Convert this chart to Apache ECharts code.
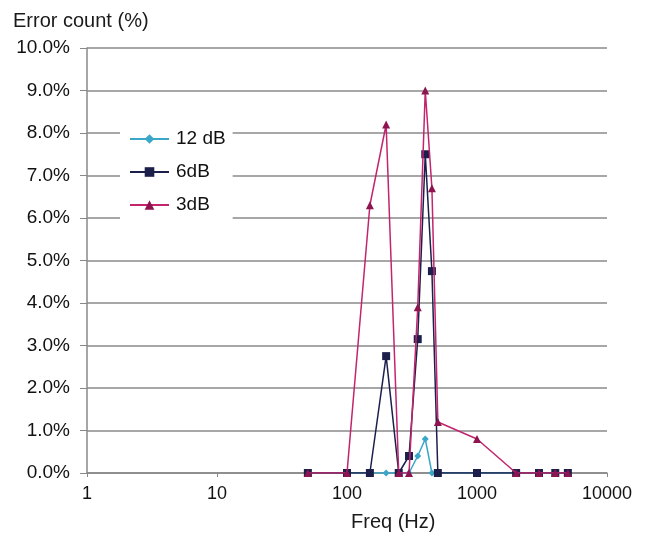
<!DOCTYPE html>
<html>
<head>
<meta charset="utf-8">
<script src="https://cdn.jsdelivr.net/npm/echarts@6/dist/echarts.min.js"></script>
<style>html,body{margin:0;padding:0;background:#fff;}#c{width:653px;height:538px;}</style>
</head>
<body>
<div id="c"></div>
<script>
const freqs = [50, 100, 150, 200, 250, 300, 350, 400, 450, 500, 1000, 2000, 3000, 4000, 5000];
const seriesNames = ['12 dB', '6dB', '3dB'];
const val12 = [0, 0, 0, 0, 0, 0, 0.4, 0.8, 0, 0, 0, 0, 0, 0, 0];
const val6 = [0, 0, 0, 2.75, 0, 0.4, 3.15, 7.5, 4.75, 0, 0, 0, 0, 0, 0];
const val3 = [0, 0, 6.3, 8.2, 0, 0, 3.9, 9.0, 6.7, 1.2, 0.8, 0, 0, 0, 0];
const xTicks = [1, 10, 100, 1000, 10000];
const yTitle = 'Error count (%)';
const xTitle = 'Freq (Hz)';

const pairs = v => freqs.map((f, i) => [f, v[i]]);
const font = 'Liberation Sans, Arial, sans-serif';
const chart = echarts.init(document.getElementById('c'));
chart.setOption({
  animation: false,
  backgroundColor: '#fff',
  title: [
    { text: yTitle, left: 13, top: 11, padding: 0,
      textStyle: { fontFamily: font, fontSize: 20, fontWeight: 'normal', color: '#1a1a1a' } },
    { text: xTitle, left: 351, top: 512, padding: 0,
      textStyle: { fontFamily: font, fontSize: 20, fontWeight: 'normal', color: '#1a1a1a' } }
  ],
  grid: { left: 87, right: 46, top: 48, bottom: 65, containLabel: false },
  legend: {
    orient: 'vertical', left: 120, top: 121, itemGap: 13, itemWidth: 39, itemHeight: 12,
    backgroundColor: '#fff', padding: [8, 7, 8, 9],
    textStyle: { fontFamily: font, fontSize: 19, lineHeight: 20, color: '#111', padding: [0, 0, 0, 2] },
    data: seriesNames
  },
  xAxis: {
    type: 'log', logBase: 10, min: 1, max: 10000,
    axisLine: { lineStyle: { color: '#888', width: 1.5 } },
    axisTick: { show: true, length: 4, lineStyle: { color: '#888' } },
    axisLabel: { fontFamily: font, fontSize: 18, color: '#111', margin: 12,
      formatter: v => { const t = xTicks.find(x => Math.abs(x - v) / x < 1e-6); return t ? String(t) : ''; } },
    splitLine: { show: false }
  },
  yAxis: {
    type: 'value', min: 0, max: 10, interval: 1,
    axisLine: { show: true, lineStyle: { color: '#888', width: 1.5 } },
    axisTick: { show: true, length: 7, lineStyle: { color: '#888' } },
    axisLabel: { fontFamily: font, fontSize: 19, color: '#111', margin: 17, formatter: v => v.toFixed(1) + '%' },
    splitLine: { show: true, lineStyle: { color: '#8a8a8a', width: 1.5 } }
  },
  series: [
    { name: '12 dB', type: 'line', data: pairs(val12), color: '#3aa6c8', symbol: 'diamond', symbolSize: 7,
      lineStyle: { width: 1.5 }, itemStyle: { color: '#3aa6c8' }, z: 2 },
    { name: '6dB', type: 'line', data: pairs(val6), color: '#1c1f4a', symbol: 'rect', symbolSize: 8,
      lineStyle: { width: 1.5 }, itemStyle: { color: '#1c1f4a' }, z: 3 },
    { name: '3dB', type: 'line', data: pairs(val3), color: '#c2246e', symbol: 'triangle', symbolSize: 8,
      lineStyle: { width: 1.5, color: '#c2246e' }, itemStyle: { color: '#8e1450' }, z: 4 }
  ]
});
</script>
</body>
</html>
